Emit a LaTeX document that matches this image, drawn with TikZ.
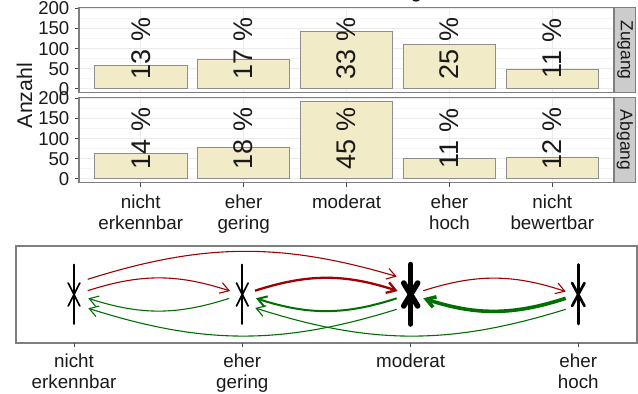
\documentclass[tikz,border=0pt]{standalone}
\usepackage{fontspec}
\setmainfont{Liberation Sans}
\usetikzlibrary{arrows.meta,calc}
\definecolor{barfill}{HTML}{F2EBC7}
\definecolor{barline}{HTML}{8E8E8E}
\definecolor{panelline}{HTML}{7F7F7F}
\definecolor{gridmaj}{HTML}{EBEBEB}
\definecolor{gridmin}{HTML}{F5F5F5}
\definecolor{stripfill}{HTML}{CCCCCC}
\definecolor{txt}{HTML}{1A1A1A}
\definecolor{redarr}{HTML}{A00000}
\definecolor{greenarr}{HTML}{007000}
\tikzset{
  panelbox/.style={draw=panelline, line width=1.1pt},
  bar/.style={fill=barfill, draw=barline, line width=1pt},
  pct/.style={rotate=90, inner sep=0pt, text=txt, font=\fontsize{27}{30}\selectfont},
  ticklbl/.style={anchor=east, inner sep=0pt, text=txt, font=\fontsize{18.6}{20.7}\selectfont},
  xlbl/.style={anchor=north, inner sep=0pt, align=center, text=txt, font=\fontsize{18.8}{20.5}\selectfont},
  tickmark/.style={draw=txt!80, line width=1pt},
  striptxt/.style={rotate=-90, inner sep=0pt, text=txt, font=\fontsize{17.5}{20}\selectfont},
  marker/.style={line cap=round, draw=black},
  rarr/.style={draw=redarr, -{Straight Barb[length=8.7pt,width=11pt]}, line join=miter},
  garr/.style={draw=greenarr, -{Straight Barb[length=8.7pt,width=11pt]}, line join=miter},
}
\begin{document}
\begin{tikzpicture}[x=1pt,y=-1pt]
\useasboundingbox (0,0) rectangle (638,394);
\fill[white] (0,0) rectangle (638,394);
% fragment of cut-off title
\fill[txt] (416,0) ellipse (3.5 and 1.6);
% ---------- upper panels ----------
\foreach \B/\strip/\nm in {92.7/Zugang/z, 182.7/Abgang/a} {
  \fill[white] (79,{\B-85.3}) rectangle (614,\B);
  \foreach \v in {25,75,125,175}
    \draw[gridmin, line width=0.6pt] (79,{\B-(\v+9.65)*0.402}) -- (614,{\B-(\v+9.65)*0.402});
  \foreach \v in {0,50,...,200}
    \draw[gridmaj, line width=0.9pt] (79,{\B-(\v+9.65)*0.402}) -- (614,{\B-(\v+9.65)*0.402});
  \foreach \i in {1,...,5}
    \draw[gridmaj, line width=0.9pt] ({79+(\i-0.4)*102.9},{\B-85.3}) -- ({79+(\i-0.4)*102.9},\B);
  \foreach \v in {0,50,...,200} {
    \draw[tickmark] (75,{\B-(\v+9.65)*0.402}) -- (79,{\B-(\v+9.65)*0.402});
    \node[ticklbl] (yt-\nm-\v) at (69.5,{\B-(\v+9.65)*0.402}) {\v};
  }
  \draw[panelbox, fill=stripfill] (614.5,{\B-85.3}) rectangle (635.5,\B);
  \node[striptxt] (strip-\nm) at (625,{\B-42.65}) {\strip};
}
\foreach \i/\v/\p in {1/58/13,2/74/17,3/143/33,4/111/25,5/47/11} {
  \draw[bar] ({79+(\i-0.4)*102.9-46.3},{92.7-9.65*0.402}) rectangle ({79+(\i-0.4)*102.9+46.3},{92.7-(\v+9.65)*0.402});
  \node[pct] (pz\i) at ({79+(\i-0.4)*102.9},{92.7-109.65*0.402}) {\p~\%};
}
\foreach \i/\v/\p in {1/62/14,2/79/18,3/193/45,4/50/11,5/53/12} {
  \draw[bar] ({79+(\i-0.4)*102.9-46.3},{182.7-9.65*0.402}) rectangle ({79+(\i-0.4)*102.9+46.3},{182.7-(\v+9.65)*0.402});
  \node[pct] (pa\i) at ({79+(\i-0.4)*102.9},{182.7-109.65*0.402}) {\p~\%};
}
\draw[panelbox] (79,7.4) rectangle (614,92.7);
\draw[panelbox] (79,97.4) rectangle (614,182.7);
\node[rotate=90, inner sep=0pt, text=txt, font=\fontsize{21.3}{24}\selectfont] (ylab) at (24.5,95.5) {Anzahl};
\foreach \i/\t in {1/{nicht\\erkennbar},2/{eher\\gering},3/{moderat},4/{eher\\hoch},5/{nicht\\bewertbar}} {
  \draw[tickmark] ({79+(\i-0.4)*102.9},182.7) -- ({79+(\i-0.4)*102.9},186.7);
  \node[xlbl] (xl\i) at ({79+(\i-0.4)*102.9},194.7) {\t};
}
% ---------- lower panel ----------
\draw[panelbox, line width=1.3pt] (16,246) rectangle (637,343);
\coordinate (ne) at (74,294.5);
\coordinate (eg) at (242.3,294.5);
\coordinate (mo) at (410.7,294.5);
\coordinate (eh) at (578.3,294.5);
\foreach \c/\t in {ne/{nicht\\erkennbar},eg/{eher\\gering},mo/{moderat},eh/{eher\\hoch}} {
  \draw[tickmark] (\c |- 0,343) -- (\c |- 0,347);
  \node[xlbl] (lbl-\c) at (\c |- 0,354) {\t};
}
% markers
\foreach \c/\w/\dx in {ne/1.7/5.8, eg/1.7/5.8, eh/2.7/6.2, mo/5.5/7} {
  \draw[marker, line width=\w pt] ([yshift=-29.5]\c) -- ([yshift=30]\c);
  \draw[marker, line width=\w pt] ([shift={(-\dx,-11.5)}]\c) -- ([shift={(\dx,11.5)}]\c);
  \draw[marker, line width=\w pt] ([shift={(\dx,-11.5)}]\c) -- ([shift={(-\dx,11.5)}]\c);
}
% red arrows
\draw[rarr, line width=1.1pt] ([shift={(13.7,-15.2)}]ne) to[bend left=17] ([shift={(-14,-18)}]mo);
\draw[rarr, line width=1.1pt] ([shift={(13.7,-3.8)}]ne) to[bend left=18] ([shift={(-12.3,-3.5)}]eg);
\draw[rarr, line width=2.3pt] ([shift={(12.7,-3.8)}]eg) to[bend left=18] ([shift={(-13,-3.5)}]mo);
\draw[rarr, line width=1.1pt] ([shift={(12.6,-3.8)}]mo) to[bend left=18] ([shift={(-12.6,-3)}]eh);
% green arrows
\draw[garr, line width=1.1pt] ([shift={(-13,3.8)}]eg) to[bend left=18] ([shift={(14.3,3.8)}]ne);
\draw[garr, line width=1.1pt] ([shift={(-14,14.8)}]mo) to[bend left=17.5] ([shift={(14.3,13.8)}]ne);
\draw[garr, line width=2pt] ([shift={(-14,3.8)}]mo) to[bend left=18] ([shift={(13.7,3.8)}]eg);
\draw[garr, line width=1.1pt] ([shift={(-12.6,14.8)}]eh) to[bend left=17.5] ([shift={(13,13.5)}]eg);
\draw[garr, line width=3.6pt] ([shift={(-12.6,3.8)}]eh) to[bend left=18] ([shift={(12.6,3.8)}]mo);
\end{tikzpicture}
\end{document}
